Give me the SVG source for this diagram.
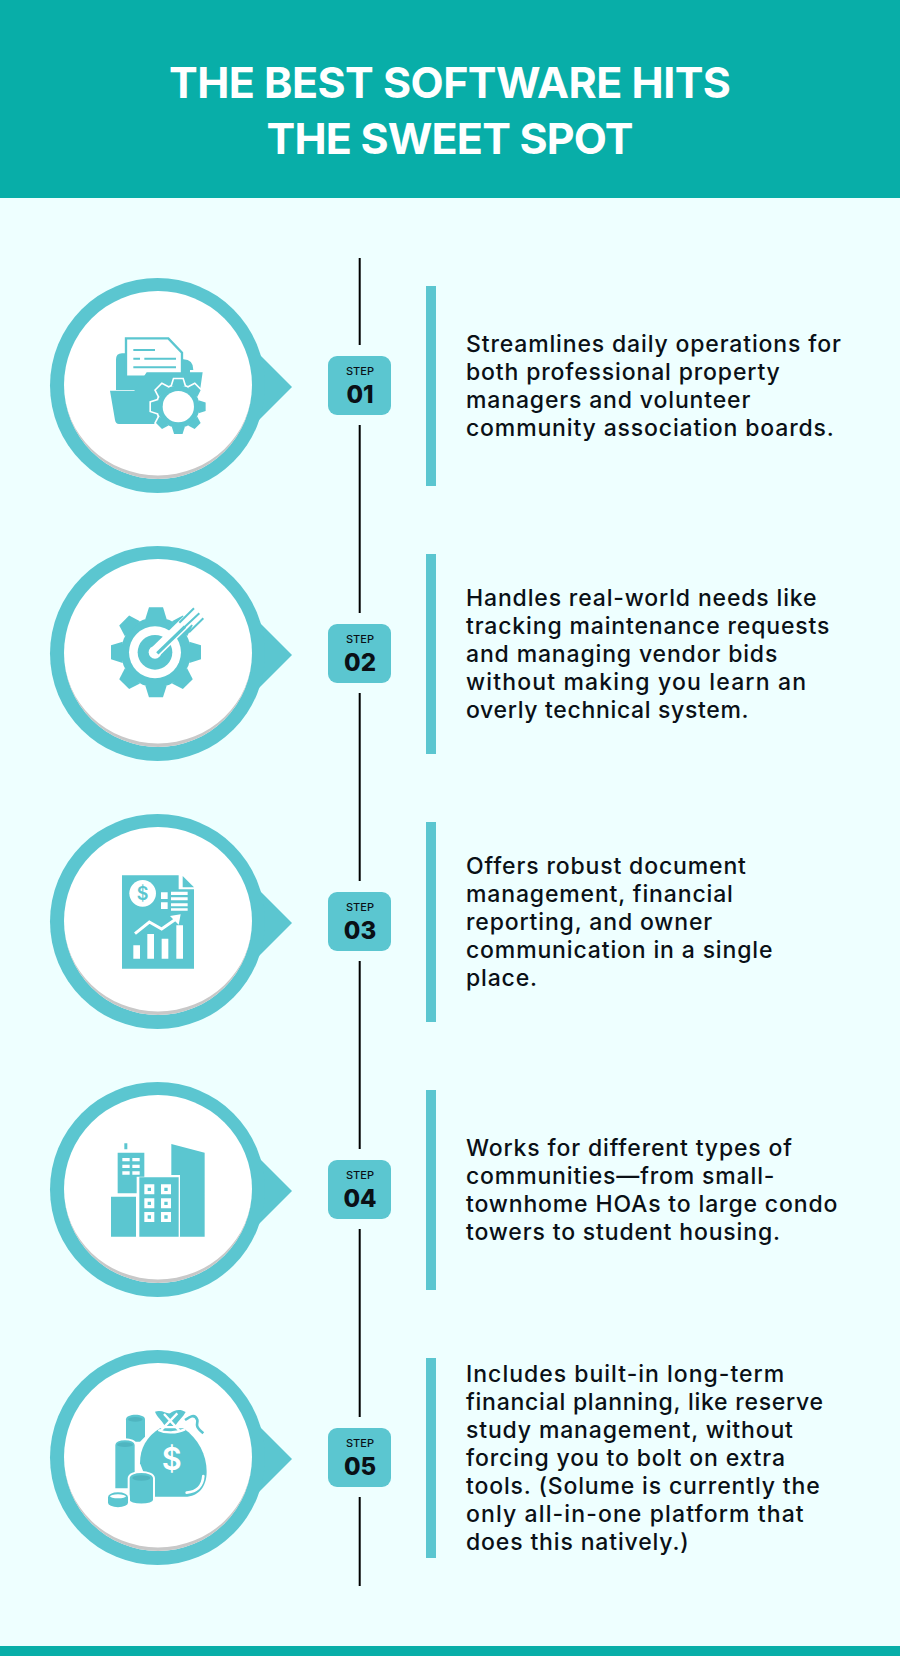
<svg xmlns="http://www.w3.org/2000/svg" width="900" height="1656" viewBox="0 0 900 1656">
<style>
.t{fill:#5bc6d0}.w{fill:#fff}
.title{font:700 43px Inter,"Liberation Sans",sans-serif;fill:#fff;text-anchor:middle}
.body{font:500 23px Inter,"Liberation Sans",sans-serif;fill:#0a1016;letter-spacing:.85px}
.sl{font:500 11px Inter,"Liberation Sans",sans-serif;fill:#0a1016;text-anchor:middle}
.sn{font:800 24px Inter,"Liberation Sans",sans-serif;fill:#0a1016;text-anchor:middle}
.sym{font-family:Inter,"Liberation Sans",sans-serif;font-weight:600;fill:#fff;text-anchor:middle}
.wl{fill:none;stroke:#fff}.tl{fill:none;stroke:#5bc6d0}
</style>
<defs>
<g id="bubble">
<path class="t" d="M255 350L292 387L255 424Z"/>
<circle class="t" cx="157.5" cy="385.5" r="107.5"/>
<circle class="w" cx="158" cy="385" r="94"/>
<path fill="#c8c8c8" d="M64 385A94 94 0 0 0 252 385A94 90.5 0 0 1 64 385Z"/>
<rect class="t" x="426" y="286" width="10" height="200"/>
<rect class="t" x="328" y="356" width="63" height="59" rx="9"/>
<text class="sl" x="360" y="375">STEP</text>
</g>
<path id="tooth" d="M-32 -100L-21 -135H21L32 -100Z"/>
<g id="gear">
<circle r="105"/>
<use href="#tooth"/>
<use href="#tooth" transform="rotate(45)"/>
<use href="#tooth" transform="rotate(90)"/>
<use href="#tooth" transform="rotate(135)"/>
<use href="#tooth" transform="rotate(180)"/>
<use href="#tooth" transform="rotate(225)"/>
<use href="#tooth" transform="rotate(270)"/>
<use href="#tooth" transform="rotate(315)"/>
</g>
</defs>
<rect width="900" height="1656" fill="#eeffff"/>
<rect width="900" height="198" fill="#08aea8"/>
<rect y="1646" width="900" height="10" fill="#08aea8"/>
<text class="title" x="450" y="98" textLength="562">THE BEST SOFTWARE HITS</text>
<text class="title" x="450" y="154" textLength="367">THE SWEET SPOT</text>
<g id="connectors" stroke="#000" stroke-width="2" fill="none">
<path d="M359.7 258V345M359.7 425V613M359.7 693V881M359.7 961V1149M359.7 1229V1417M359.7 1497V1586"/>
</g>
<g id="step1">
<use href="#bubble"/>
<text class="sn" x="360" y="403">01</text>
<g transform="translate(90 320) scale(.3333)">
<path class="t" d="M110 100H96Q78 100 78 118V210H300V150H310Q310 118 280 118H270V150H110Z"/>
<path class="w" d="M108 55H235L276 98V170H108Z" stroke="#5bc6d0" stroke-width="7"/>
<path class="tl" stroke-width="6" d="M130 90H195M130 116H150M163 116H258M130 142H258"/>
<path class="t" d="M60 212H133L170 157H338L330 212L300 312H87Q77 312 75 300Z"/>
<use href="#gear" transform="translate(265 260) scale(.607)" fill="#fff" stroke="#fff" stroke-width="16"/>
<use href="#gear" transform="translate(265 260) scale(.607)" fill="#5bc6d0"/>
<circle class="w" cx="265" cy="260" r="47"/>
</g>
<text class="body" x="466" y="352">Streamlines daily operations for</text>
<text class="body" x="466" y="380">both professional property</text>
<text class="body" x="466" y="408">managers and volunteer</text>
<text class="body" x="466" y="436">community association boards.</text>
</g>
<g id="step2" >
<use href="#bubble" y="268"/>
<text class="sn" x="360" y="671">02</text>
<g transform="translate(90 590) scale(.3333)">
<use href="#gear" transform="translate(198 187)" fill="#5bc6d0"/>
<circle class="w" cx="195" cy="187" r="78"/>
<circle class="t" cx="195" cy="187" r="52"/>
<circle class="w" cx="195" cy="187" r="19"/>
<path class="wl" stroke-width="34" d="M200 182L345 40"/>
<path class="tl" stroke-width="10" d="M202 190L285 110"/>
<path class="tl" stroke-width="6" d="M268 98L312 55M283 112L328 70M297 127L340 85"/>
</g>
<text class="body" x="466" y="606">Handles real-world needs like</text>
<text class="body" x="466" y="634">tracking maintenance requests</text>
<text class="body" x="466" y="662">and managing vendor bids</text>
<text class="body" x="466" y="690" style="letter-spacing:1.16px">without making you learn an</text>
<text class="body" x="466" y="718" style="letter-spacing:.67px">overly technical system.</text>
</g>
<g id="step3">
<use href="#bubble" y="536"/>
<text class="sn" x="360" y="939">03</text>
<g transform="translate(90 860) scale(.3333)">
<path class="t" d="M96 46H266V88H312V326H96Z"/>
<path class="t" d="M278 48L312 82H278Z"/>
<circle class="w" cx="158" cy="100" r="40"/>
<text class="sym" x="158" y="119" font-size="54" style="fill:#5bc6d0">$</text>
<path class="w" d="M213 97h20v20h-20zM213 127h20v20h-20zM243 95h50v10h-50zM243 112h50v9h-50zM243 130h50v9h-50zM243 145h50v7h-50z"/>
<path class="wl" stroke-width="9" d="M135 221L178 186L215 207L258 177"/>
<path class="w" d="M240 168L272 163L266 194Z"/>
<path class="w" d="M130 256h20v40h-20zM172 222h20v74h-20zM215 236h20v60h-20zM259 196h20v100h-20z"/>
</g>
<text class="body" x="466" y="874">Offers robust document</text>
<text class="body" x="466" y="902">management, financial</text>
<text class="body" x="466" y="930">reporting, and owner</text>
<text class="body" x="466" y="958">communication in a single</text>
<text class="body" x="466" y="986">place.</text>
</g>
<g id="step4">
<use href="#bubble" y="804"/>
<text class="sn" x="360" y="1207">04</text>
<g transform="translate(90 1130) scale(.3333)">
<path class="t" d="M103 40h9v18h-9zM83 68H163V140H140V190H83ZM63 200H138V320H63ZM244 42L344 68V320H270V135H244Z"/>
<path class="w" d="M97 84h22v10h-22zM127 84h22v10h-22zM97 104h22v10h-22zM127 104h22v10h-22zM97 124h22v10h-22zM127 124h22v10h-22z"/>
<path class="t" d="M148 142H266V320H148Z"/>
<path class="w" d="M163 163h30v30h-30zM213 163h30v30h-30zM163 205h30v30h-30zM213 205h30v30h-30zM163 246h30v30h-30zM213 246h30v30h-30z"/>
<path class="t" d="M173 173h10v10h-10zM223 173h10v10h-10zM173 215h10v10h-10zM223 215h10v10h-10zM173 256h10v10h-10zM223 256h10v10h-10z"/>
</g>
<text class="body" x="466" y="1156">Works for different types of</text>
<text class="body" x="466" y="1184">communities—from small-</text>
<text class="body" x="466" y="1212">townhome HOAs to large condo</text>
<text class="body" x="466" y="1240">towers to student housing.</text>
</g>
<g id="step5">
<use href="#bubble" y="1072"/>
<text class="sn" x="360" y="1475">05</text>
<g transform="translate(90 1400) scale(.3333)">
<path class="t" d="M210 85C170 110 150 145 150 190L190 290H285C325 290 350 260 350 215C350 165 325 115 280 85Z"/>
<path class="t" d="M195 35C215 28 230 42 240 40C252 30 270 25 287 36C280 50 265 62 255 78H225C215 60 200 50 195 35Z"/>
<path class="wl" stroke-width="7" d="M212 92L262 40M268 92L222 42M205 90C225 100 260 100 285 88"/>
<path class="tl" stroke-width="8" d="M285 60C300 50 315 40 322 60C325 72 310 75 340 100"/>
<text class="sym" x="245" y="211" font-size="92">$</text>
<path class="wl" stroke-width="8" stroke-linecap="round" d="M290 278C320 275 338 258 340 228"/>
<path class="t" d="M108 58C108 40 165 40 165 58V110L150 125H108Z"/>
<ellipse cx="136" cy="58" rx="22" ry="7" fill="#4fb5c0"/>
<path class="t" stroke="#fff" stroke-width="6" d="M73 135C73 112 137 112 137 135V268H73Z"/>
<ellipse cx="105" cy="134" rx="24" ry="7" fill="#4fb5c0"/>
<path class="t" stroke="#fff" stroke-width="6" d="M116 235C116 210 192 210 192 235V300C192 318 116 318 116 300Z"/>
<ellipse cx="154" cy="234" rx="27" ry="8" fill="#4fb5c0"/>
<path class="t" stroke="#fff" stroke-width="6" d="M51 292C51 268 117 268 117 292V308C117 330 51 330 51 308Z"/>
<ellipse cx="84" cy="289" rx="24" ry="6" class="w"/>
</g>
<text class="body" x="466" y="1382" style="letter-spacing:1px">Includes built-in long-term</text>
<text class="body" x="466" y="1410" style="letter-spacing:.75px">financial planning, like reserve</text>
<text class="body" x="466" y="1438">study management, without</text>
<text class="body" x="466" y="1466">forcing you to bolt on extra</text>
<text class="body" x="466" y="1494">tools. (Solume is currently the</text>
<text class="body" x="466" y="1522" style="letter-spacing:1.11px">only all-in-one platform that</text>
<text class="body" x="466" y="1550">does this natively.)</text>
</g>
</svg>
